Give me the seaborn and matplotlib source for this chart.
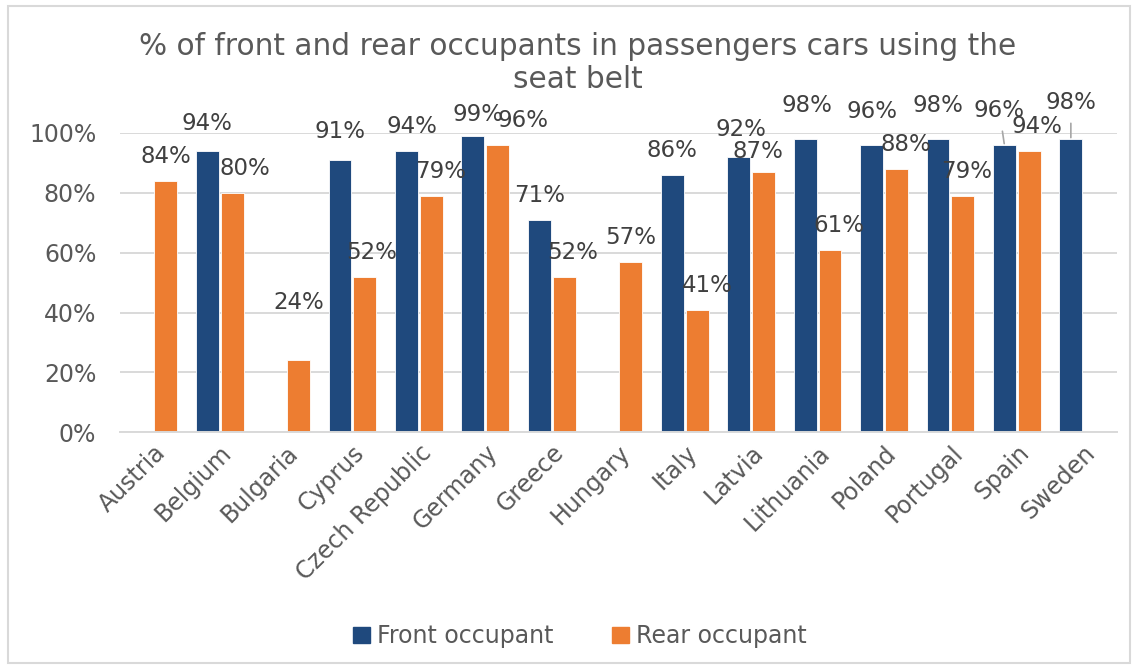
import matplotlib
matplotlib.use("Agg")

import matplotlib.pyplot as plt
import seaborn as sns
import pandas as pd
import numpy as np
from matplotlib.patches import Rectangle

# data (NaN = no value reported)
countries = ["Austria", "Belgium", "Bulgaria", "Cyprus", "Czech Republic", "Germany",
             "Greece", "Hungary", "Italy", "Latvia", "Lithuania", "Poland",
             "Portugal", "Spain", "Sweden"]
front = [np.nan, 94, np.nan, 91, 94, 99, 71, np.nan, 86, 92, 98, 96, 98, 96, 98]
rear = [84, 80, 24, 52, 79, 96, 52, 57, 41, 87, 61, 88, 79, 94, np.nan]
series = ["Front occupant", "Rear occupant"]

BLUE = "#1F497D"
ORANGE = "#ED7D31"
TEXT = "#595959"
GRID = "#D9D9D9"

df = pd.DataFrame({
    "Country": countries * 2,
    "Occupant": [series[0]] * len(countries) + [series[1]] * len(countries),
    "Value": front + rear,
})

sns.set_theme(style="white")
plt.rcParams["font.family"] = ["DejaVu Sans"]

fig = plt.figure(figsize=(11.37, 6.67), dpi=100)
ax = fig.add_axes([0.1055, 0.352, 0.8765, 0.4486])

sns.barplot(data=df, x="Country", y="Value", hue="Occupant", order=countries,
            hue_order=series, palette=[BLUE, ORANGE], saturation=1, width=0.75,
            gap=0.08, errorbar=None, legend=False, ax=ax, edgecolor="white",
            linewidth=0.6)

ax.set_ylim(0, 100)
ax.set_yticks(range(0, 101, 20))
ax.set_yticklabels([f"{v}%" for v in range(0, 101, 20)])
ax.yaxis.grid(True, color=GRID, linewidth=1.4)
ax.set_axisbelow(True)
ax.set_xlabel("")
ax.set_ylabel("")
for s in ["top", "right", "left"]:
    ax.spines[s].set_visible(False)
ax.spines["bottom"].set_color(GRID)
ax.spines["bottom"].set_linewidth(1.4)
ax.tick_params(axis="both", length=0, colors=TEXT, labelsize=17)
ax.tick_params(axis="y", pad=17)
ax.tick_params(axis="x", pad=6)
plt.setp(ax.get_xticklabels(), rotation=45, ha="right", rotation_mode="anchor")

# label nudges (pixels) so labels sit roughly where Excel put them
nudge = {
    ("Belgium", 0): (0, 3), ("Belgium", 1): (13, 0), ("Bulgaria", 1): (0, 34),
    ("Cyprus", 0): (0, 4), ("Cyprus", 1): (7, 0), ("Czech Republic", 0): (5, 0),
    ("Czech Republic", 1): (9, 0), ("Germany", 0): (5, -3), ("Germany", 1): (25, 0),
    ("Greece", 1): (8, 0), ("Italy", 1): (10, 0), ("Latvia", 0): (2, 3),
    ("Latvia", 1): (-6, -4), ("Lithuania", 0): (2, 9), ("Lithuania", 1): (9, 0),
    ("Poland", 0): (0, 9), ("Poland", 1): (9, 0), ("Portugal", 0): (0, 9),
    ("Portugal", 1): (4, 0), ("Spain", 0): (-5, 10), ("Spain", 1): (8, 0),
    ("Sweden", 0): (0, 12),
}
leader = {("Spain", 0), ("Sweden", 0)}

for k, cont in enumerate(ax.containers):
    for bar in cont:
        h = bar.get_height()
        if np.isnan(h):
            continue
        xc = bar.get_x() + bar.get_width() / 2
        name = countries[int(round(xc))]
        dx, dy = nudge.get((name, k), (0, 0))
        kw = {}
        if (name, k) in leader:
            kw["arrowprops"] = dict(arrowstyle="-", color="#A6A6A6", lw=1.2,
                                    shrinkA=4, shrinkB=1)
        ax.annotate(f"{h:.0f}%", (xc, h), xytext=(dx, 24 + dy),
                    textcoords="offset pixels", ha="center", va="center",
                    fontsize=16.5, color="#404040", **kw)

fig.text(0.508, 0.905, "% of front and rear occupants in passengers cars using the\nseat belt",
         ha="center", va="center", fontsize=21.3, color=TEXT, linespacing=1.17)

handles = [Rectangle((0, 0), 1, 1, color=c) for c in [BLUE, ORANGE]]
fig.legend(handles, series, loc="center", bbox_to_anchor=(0.51, 0.046), ncol=2,
           frameon=False, fontsize=17, labelcolor=TEXT, handlelength=0.7,
           handleheight=0.7, handletextpad=0.3, columnspacing=2.5)

fig.patches.append(Rectangle((0.007, 0.006), 0.987, 0.985, transform=fig.transFigure,
                             fill=False, edgecolor=GRID, linewidth=1.5))

fig.savefig("out.png", dpi=100)
